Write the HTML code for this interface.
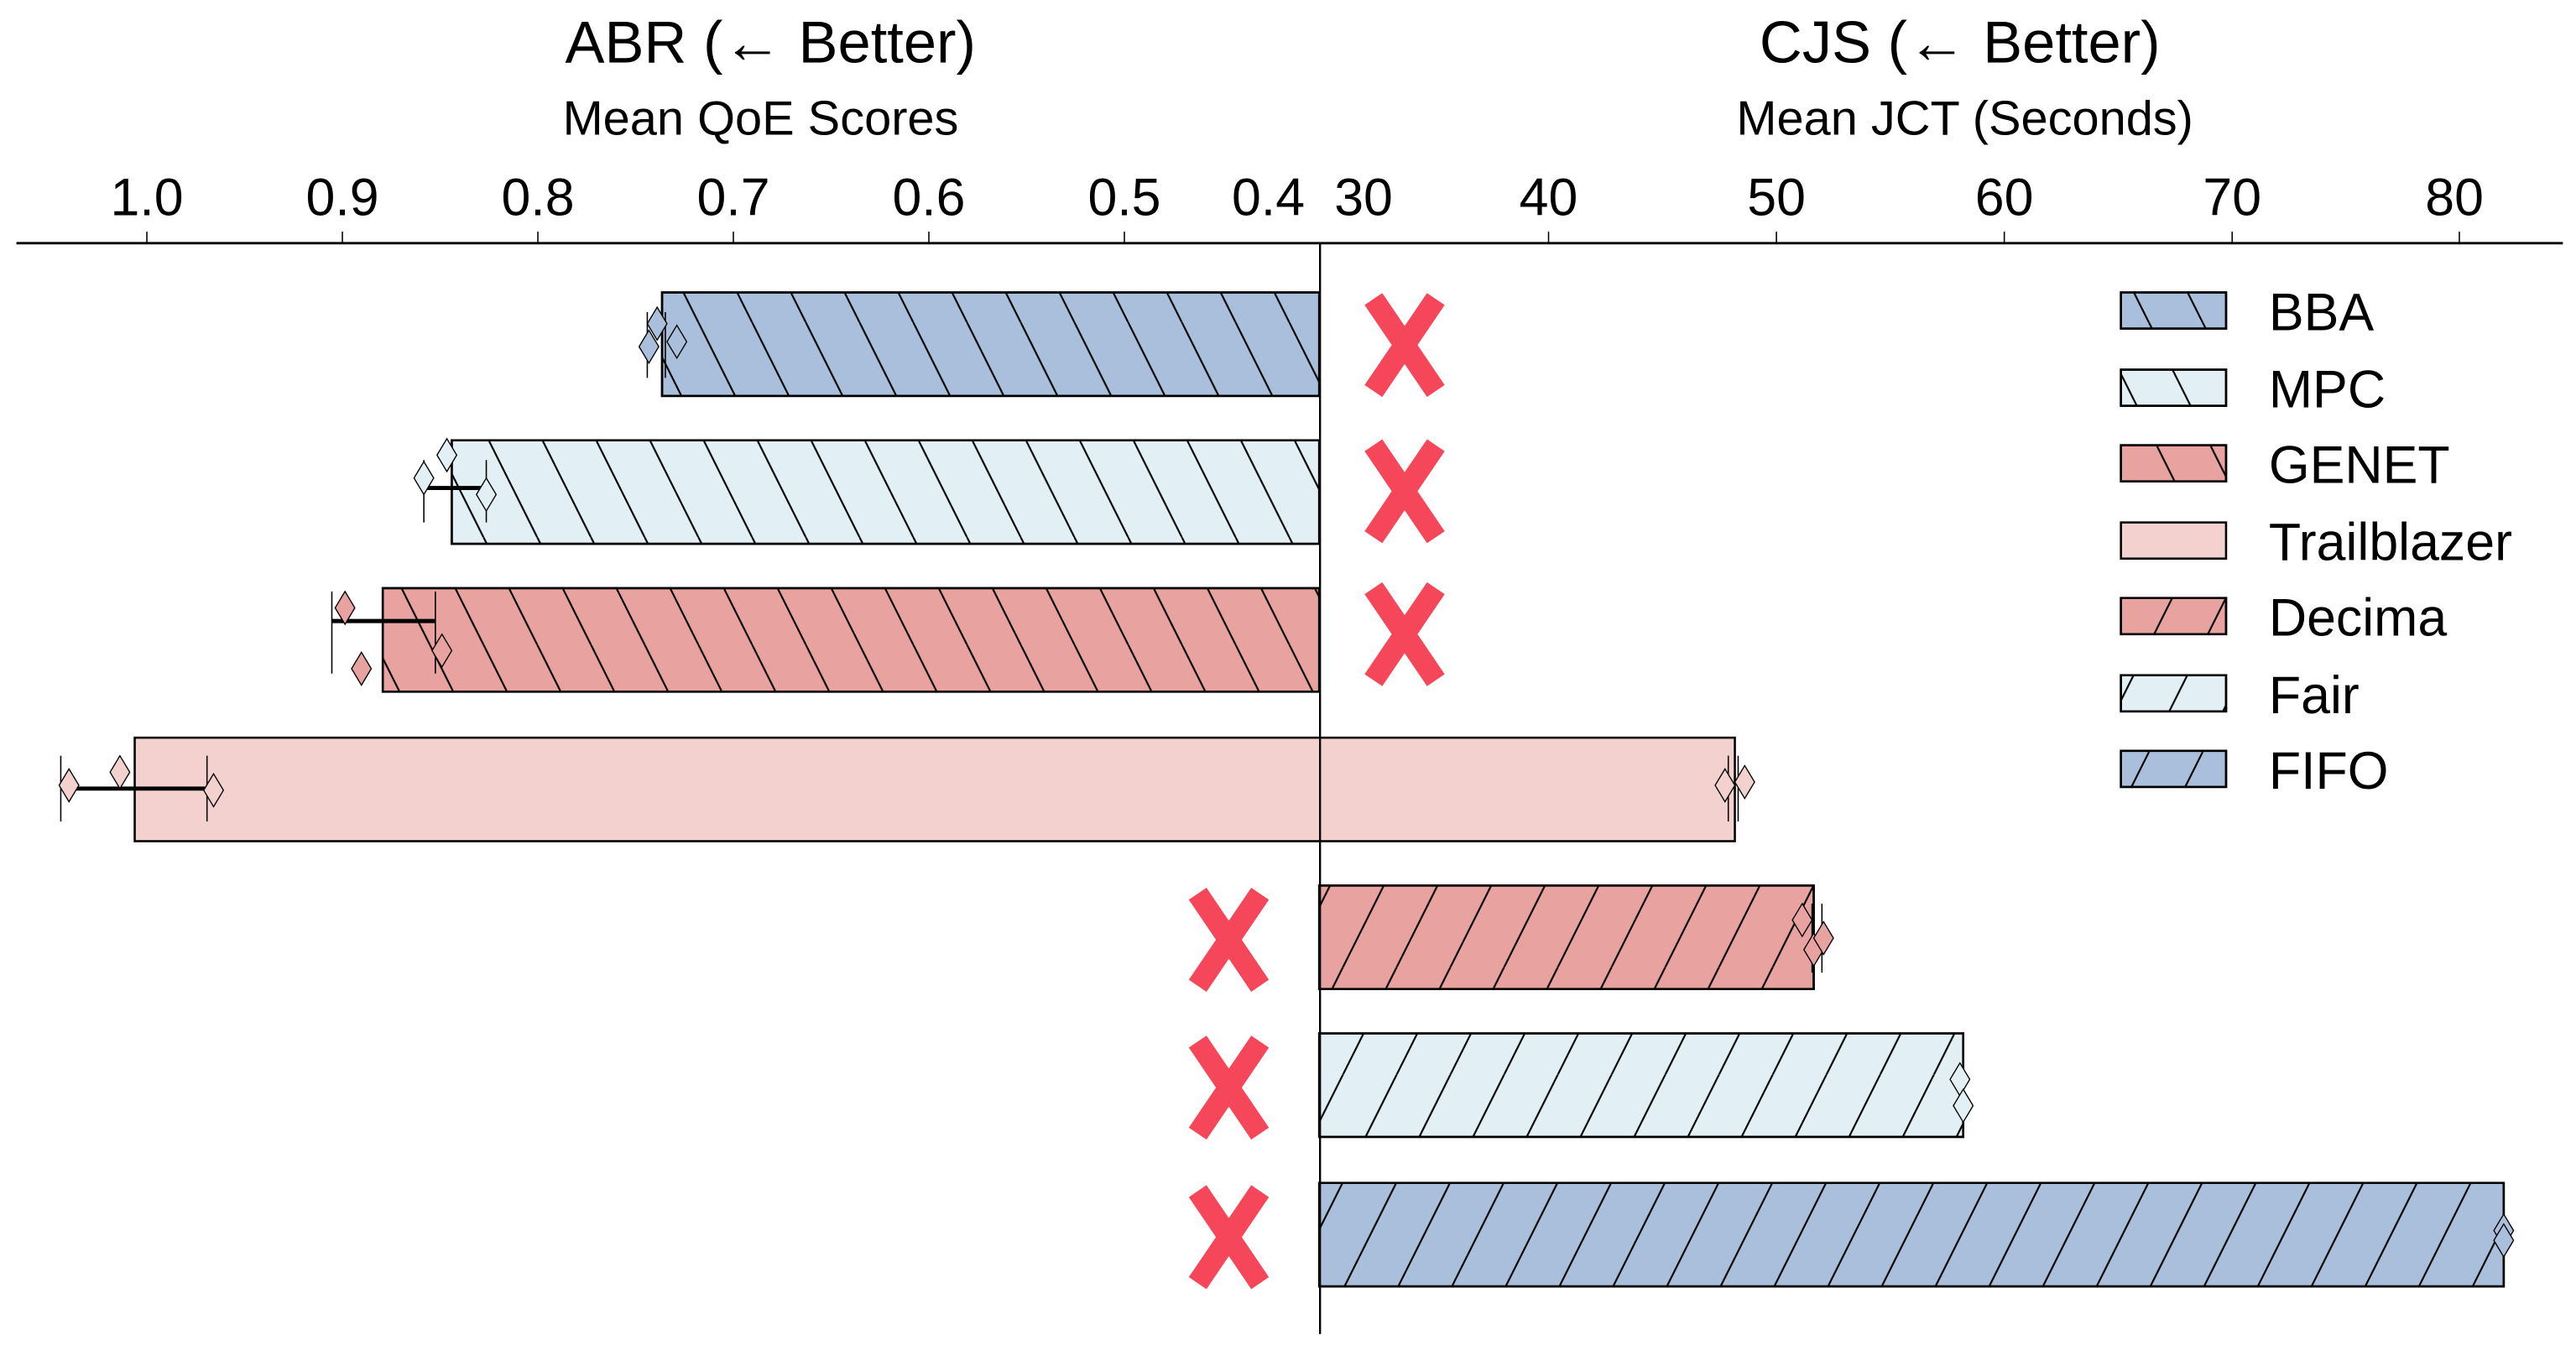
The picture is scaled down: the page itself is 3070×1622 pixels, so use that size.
<!DOCTYPE html>
<html><head><meta charset="utf-8"><style>
html,body{margin:0;padding:0;background:#fff;}
svg{display:block;}
text{font-family:"Liberation Sans",Arial,sans-serif;fill:#000;}
</style></head><body>
<svg width="3070" height="1622" viewBox="0 0 1568 828.4" preserveAspectRatio="none" xmlns="http://www.w3.org/2000/svg">
<defs>
<pattern id="bs" patternUnits="userSpaceOnUse" width="32.7" height="65.4">
<path d="M-32.7,0 L0,65.4 M0,0 L32.7,65.4 M32.7,0 L65.4,65.4" stroke="#000" stroke-width="1.1"/>
</pattern>
<pattern id="fs" patternUnits="userSpaceOnUse" width="32.7" height="65.4">
<path d="M-32.7,65.4 L0,0 M0,65.4 L32.7,0 M32.7,65.4 L65.4,0" stroke="#000" stroke-width="1.1"/>
</pattern>
<g id="x"><path d="M-19,-28 L19,28 M19,-28 L-19,28" stroke="#f54759" stroke-width="13" stroke-linecap="butt"/></g>
<path id="d" d="M0,-10 L6,0 L0,10 L-6,0 Z"/>
</defs>

<text x="469" y="38" font-size="36" text-anchor="middle">ABR (← Better)</text>
<text x="463" y="82" font-size="29.5" text-anchor="middle">Mean QoE Scores</text>
<text x="1193" y="38" font-size="36" text-anchor="middle">CJS (← Better)</text>
<text x="1196" y="82" font-size="29.5" text-anchor="middle">Mean JCT (Seconds)</text>

<g font-size="32" text-anchor="middle">
<text x="89.4" y="131">1.0</text><text x="208.4" y="131">0.9</text><text x="327.4" y="131">0.8</text>
<text x="446.4" y="131">0.7</text><text x="565.4" y="131">0.6</text><text x="684.4" y="131">0.5</text>
<text x="772" y="131">0.4</text>
<text x="830" y="131">30</text><text x="942.6" y="131">40</text><text x="1081.3" y="131">50</text>
<text x="1220" y="131">60</text><text x="1358.7" y="131">70</text><text x="1494" y="131">80</text>
</g>
<line x1="10" y1="148" x2="1560" y2="148" stroke="#000" stroke-width="1.5"/>
<g stroke="#000" stroke-width="0.8">
<line x1="89.4" y1="141" x2="89.4" y2="148"/><line x1="208.4" y1="141" x2="208.4" y2="148"/>
<line x1="327.4" y1="141" x2="327.4" y2="148"/><line x1="446.4" y1="141" x2="446.4" y2="148"/>
<line x1="565.4" y1="141" x2="565.4" y2="148"/><line x1="684.4" y1="141" x2="684.4" y2="148"/>
<line x1="942.6" y1="141" x2="942.6" y2="148"/><line x1="1081.3" y1="141" x2="1081.3" y2="148"/>
<line x1="1220" y1="141" x2="1220" y2="148"/><line x1="1358.7" y1="141" x2="1358.7" y2="148"/>
<line x1="1497" y1="141" x2="1497" y2="148"/>
</g>

<g stroke="#000" stroke-width="1.3">
<rect x="403" y="178" width="400" height="63" fill="#a9bfdb"/>
<rect x="275" y="268" width="528" height="63" fill="#e2eff5"/>
<rect x="233" y="358" width="570" height="63" fill="#e8a3a0"/>
<rect x="82" y="449" width="974" height="63" fill="#f3d1ce"/>
<rect x="803" y="539" width="301" height="63" fill="#e8a3a0"/>
<rect x="803" y="629" width="392" height="63" fill="#e2eff5"/>
<rect x="803" y="720" width="721" height="63" fill="#a9bfdb"/>
</g>
<g stroke="#000" stroke-width="1.3">
<rect x="403" y="178" width="400" height="63" fill="url(#bs)"/>
<rect x="275" y="268" width="528" height="63" fill="url(#bs)"/>
<rect x="233" y="358" width="570" height="63" fill="url(#bs)"/>
<rect x="803" y="539" width="301" height="63" fill="url(#fs)"/>
<rect x="803" y="629" width="392" height="63" fill="url(#fs)"/>
<rect x="803" y="720" width="721" height="63" fill="url(#fs)"/>
</g>

<line x1="803.5" y1="148" x2="803.5" y2="812" stroke="#000" stroke-width="1.2"/>

<g stroke="#000" stroke-width="0.8" fill="none">
<line x1="394" y1="190" x2="394" y2="230"/><line x1="405" y1="190" x2="405" y2="230"/>
<line x1="258" y1="280" x2="258" y2="318"/><line x1="296" y1="280" x2="296" y2="318"/>
<line x1="202" y1="360" x2="202" y2="410"/><line x1="265" y1="360" x2="265" y2="410"/>
<line x1="37" y1="460" x2="37" y2="500"/><line x1="126" y1="460" x2="126" y2="500"/>
<line x1="1052" y1="460" x2="1052" y2="500"/><line x1="1058" y1="460" x2="1058" y2="500"/>
<line x1="1103" y1="550" x2="1103" y2="592"/><line x1="1109" y1="550" x2="1109" y2="592"/>
<line x1="1195" y1="643" x2="1195" y2="660"/>
</g>
<g stroke="#000" stroke-width="2.5">
<line x1="258" y1="297" x2="296" y2="297"/>
<line x1="202" y1="378" x2="265" y2="378"/>
<line x1="42" y1="480" x2="125" y2="480"/>
</g>

<g stroke="#000" stroke-width="0.7">
<g fill="#a9bfdb"><use href="#d" x="400" y="197"/><use href="#d" x="395" y="211"/><use href="#d" x="412" y="208"/></g>
<g fill="#e2eff5"><use href="#d" x="272" y="277"/><use href="#d" x="258" y="291"/><use href="#d" x="296" y="301"/></g>
<g fill="#e8a3a0"><use href="#d" x="210" y="370"/><use href="#d" x="220" y="407"/><use href="#d" x="269" y="396"/></g>
<g fill="#f3d1ce"><use href="#d" x="42" y="478"/><use href="#d" x="73" y="470"/><use href="#d" x="130" y="481"/><use href="#d" x="1050" y="478"/><use href="#d" x="1062" y="476"/></g>
<g fill="#e8a3a0"><use href="#d" x="1097" y="560"/><use href="#d" x="1104" y="578"/><use href="#d" x="1110" y="571"/></g>
<g fill="#e2eff5"><use href="#d" x="1193" y="657"/><use href="#d" x="1195" y="673"/></g>
<g fill="#a9bfdb"><use href="#d" x="1524" y="749"/><use href="#d" x="1524" y="755"/></g>
</g>

<use href="#x" x="855" y="210"/><use href="#x" x="855" y="299"/><use href="#x" x="855" y="386"/>
<use href="#x" x="748" y="572"/><use href="#x" x="748" y="662"/><use href="#x" x="748" y="753"/>

<g stroke="#000" stroke-width="1.3">
<rect x="1291" y="178" width="64" height="22" fill="#a9bfdb"/><rect x="1291" y="178" width="64" height="22" fill="url(#bs)"/>
<rect x="1291" y="225" width="64" height="22" fill="#e2eff5"/><rect x="1291" y="225" width="64" height="22" fill="url(#bs)"/>
<rect x="1291" y="271" width="64" height="22" fill="#e8a3a0"/><rect x="1291" y="271" width="64" height="22" fill="url(#bs)"/>
<rect x="1291" y="318" width="64" height="22" fill="#f3d1ce"/>
<rect x="1291" y="364" width="64" height="22" fill="#e8a3a0"/><rect x="1291" y="364" width="64" height="22" fill="url(#fs)"/>
<rect x="1291" y="411" width="64" height="22" fill="#e2eff5"/><rect x="1291" y="411" width="64" height="22" fill="url(#fs)"/>
<rect x="1291" y="457" width="64" height="22" fill="#a9bfdb"/><rect x="1291" y="457" width="64" height="22" fill="url(#fs)"/>
</g>
<g font-size="32">
<text x="1381" y="201">BBA</text><text x="1381" y="248">MPC</text><text x="1381" y="294">GENET</text>
<text x="1381" y="341">Trailblazer</text><text x="1381" y="387">Decima</text><text x="1381" y="434">Fair</text>
<text x="1381" y="480">FIFO</text>
</g>
</svg>
</body></html>
